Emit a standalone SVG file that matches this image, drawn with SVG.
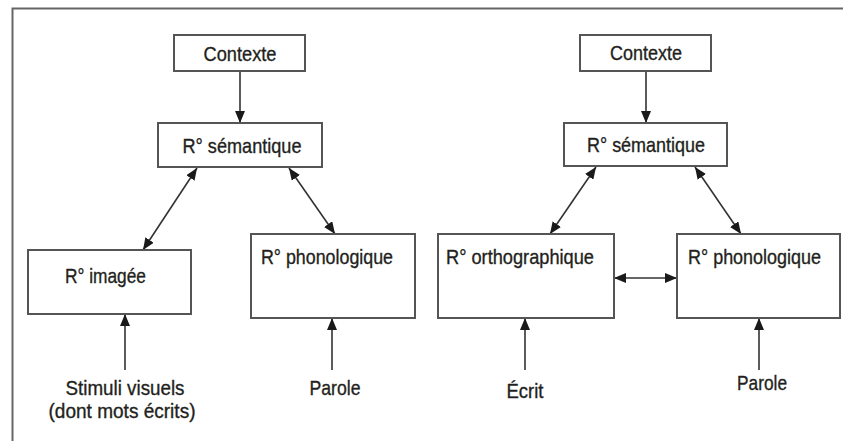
<svg xmlns="http://www.w3.org/2000/svg" width="843" height="441" viewBox="0 0 843 441">
<defs>
<marker id="ah" viewBox="0 0 12 10" markerWidth="12" markerHeight="10" refX="12" refY="5" orient="auto-start-reverse" markerUnits="userSpaceOnUse">
<path d="M0,0 L12,5 L0,10 z" fill="#1a1a1a"/>
</marker>
<style>
.box{fill:#fff;stroke:#555;stroke-width:2}
.t{font-family:"Liberation Sans",Arial,sans-serif;font-size:21px;fill:#231f20;stroke:#231f20;stroke-width:0.35}
.c{text-anchor:middle}
.ln{stroke:#333;stroke-width:1.6;fill:none}
.frame{stroke:#666;stroke-width:2;fill:none}
</style>
</defs>
<rect width="843" height="441" fill="#fff"/>
<path class="frame" d="M12.5,441 L12.5,8.5 L843,8.5"/>
<g id="connectors">
<line class="ln" x1="240" y1="71" x2="240" y2="123" marker-end="url(#ah)"/>
<line class="ln" x1="197" y1="168" x2="143" y2="250" marker-start="url(#ah)" marker-end="url(#ah)"/>
<line class="ln" x1="289" y1="168" x2="335" y2="234" marker-start="url(#ah)" marker-end="url(#ah)"/>
<line class="ln" x1="125" y1="370" x2="125" y2="314" marker-end="url(#ah)"/>
<line class="ln" x1="332" y1="370" x2="332" y2="318" marker-end="url(#ah)"/>
<line class="ln" x1="646" y1="71" x2="646" y2="123" marker-end="url(#ah)"/>
<line class="ln" x1="596" y1="167" x2="550" y2="234" marker-start="url(#ah)" marker-end="url(#ah)"/>
<line class="ln" x1="695" y1="167" x2="741" y2="234" marker-start="url(#ah)" marker-end="url(#ah)"/>
<line class="ln" x1="614" y1="278" x2="677" y2="278" marker-start="url(#ah)" marker-end="url(#ah)"/>
<line class="ln" x1="525" y1="370" x2="525" y2="318" marker-end="url(#ah)"/>
<line class="ln" x1="759" y1="370" x2="759" y2="318" marker-end="url(#ah)"/>
</g>
<g id="contexte-l"><rect class="box" x="174" y="35" width="131" height="36"/><text class="t c" x="240" y="61" textLength="73" lengthAdjust="spacingAndGlyphs">Contexte</text></g>
<g id="semantique-l"><rect class="box" x="158" y="123" width="164" height="44"/><text class="t c" x="242" y="153" textLength="119" lengthAdjust="spacingAndGlyphs">R° sémantique</text></g>
<g id="imagee"><rect class="box" x="28" y="250" width="163" height="64"/><text class="t" x="65" y="283" textLength="81" lengthAdjust="spacingAndGlyphs">R° imagée</text></g>
<g id="phono-l"><rect class="box" x="251" y="234" width="164" height="84"/><text class="t" x="261" y="264" textLength="132" lengthAdjust="spacingAndGlyphs">R° phonologique</text></g>
<g id="stimuli"><text class="t c" x="125" y="395" textLength="119" lengthAdjust="spacingAndGlyphs">Stimuli visuels</text><text class="t c" x="122" y="418" textLength="147" lengthAdjust="spacingAndGlyphs">(dont mots écrits)</text></g>
<g id="parole-l"><text class="t c" x="335" y="395" textLength="51" lengthAdjust="spacingAndGlyphs">Parole</text></g>
<g id="contexte-r"><rect class="box" x="580" y="35" width="131" height="36"/><text class="t c" x="646" y="60" textLength="72" lengthAdjust="spacingAndGlyphs">Contexte</text></g>
<g id="semantique-r"><rect class="box" x="564" y="123" width="163" height="43"/><text class="t c" x="646" y="152" textLength="118" lengthAdjust="spacingAndGlyphs">R° sémantique</text></g>
<g id="ortho"><rect class="box" x="438" y="234" width="176" height="84"/><text class="t" x="446" y="264" textLength="148" lengthAdjust="spacingAndGlyphs">R° orthographique</text></g>
<g id="phono-r"><rect class="box" x="677" y="234" width="163" height="84"/><text class="t" x="688" y="264" textLength="133" lengthAdjust="spacingAndGlyphs">R° phonologique</text></g>
<g id="ecrit"><text class="t c" x="525" y="398" textLength="37" lengthAdjust="spacingAndGlyphs">Écrit</text></g>
<g id="parole-r"><text class="t c" x="762" y="390" textLength="50" lengthAdjust="spacingAndGlyphs">Parole</text></g>
</svg>
